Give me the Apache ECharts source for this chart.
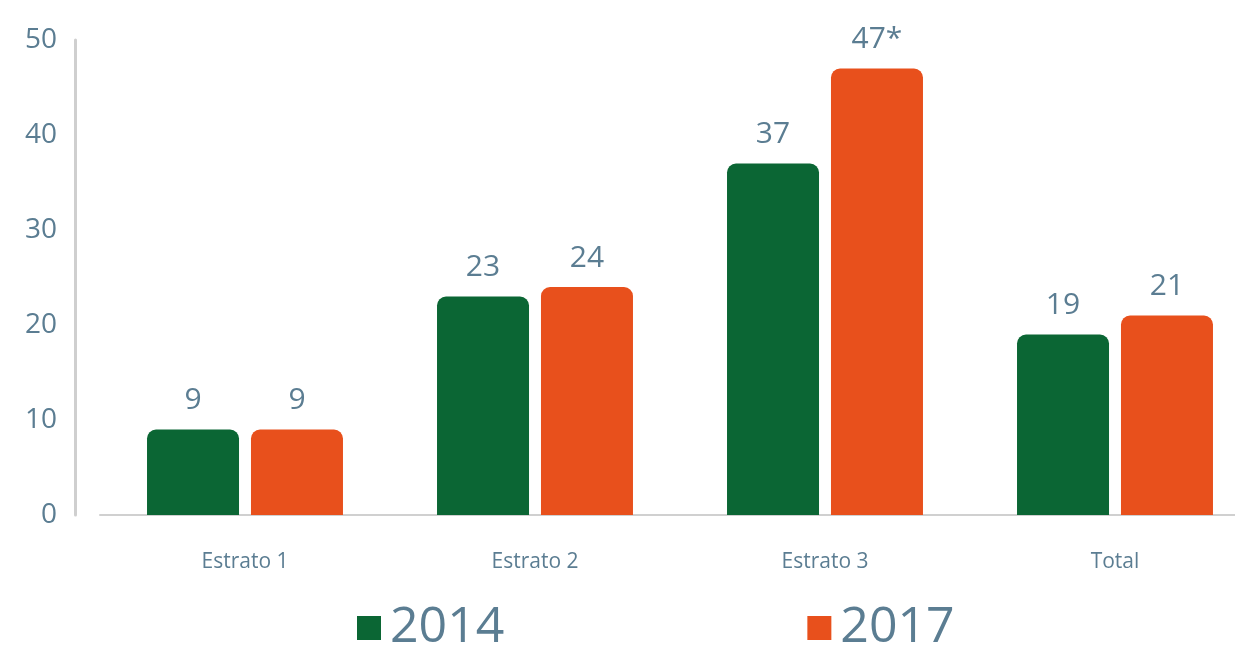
<!DOCTYPE html>
<html><head><meta charset="utf-8">
<script src="https://cdn.jsdelivr.net/npm/echarts@6/dist/echarts.min.js"></script>
<style>html,body{margin:0;padding:0;background:#fff;overflow:hidden;width:1235px;height:647px}#c{width:1260px;height:660px}</style>
</head><body><div id="c"></div>
<script>
var categories = ["Estrato 1", "Estrato 2", "Estrato 3", "Total"];
var values2014 = [9, 23, 37, 19];
var values2017 = [9, 24, 47, 21];
var labels2014 = ["9", "23", "37", "19"];
var labels2017 = ["9", "24", "47*", "21"];
var seriesNames = ["2014", "2017"];
var textColor = "#5b7d92";
var chart = echarts.init(document.getElementById('c'));
function lab(arr){return {show:true,position:'top',distance:14,fontSize:30,color:textColor,fontFamily:'Open Sans',formatter:function(p){return arr[p.dataIndex];}};}
chart.setOption({
  animation:false,
  grid:{left:100,right:0,top:40,height:475},
  legend:{bottom:2,left:352,itemWidth:24,itemHeight:24,itemGap:303,icon:'rect',
    textStyle:{fontSize:50,color:textColor,fontFamily:'Open Sans',padding:[0,0,0,4]},data:seriesNames},
  xAxis:{type:'category',data:categories,
    axisLine:{lineStyle:{color:'#d0d0d0',width:2}},axisTick:{show:false},
    axisLabel:{fontSize:21,color:textColor,margin:37,fontFamily:'Open Sans'}},
  yAxis:{type:'value',min:0,max:50,interval:10,offset:25,
    axisLine:{show:true,lineStyle:{color:'#cfcfcf',width:3}},axisTick:{show:false},splitLine:{show:false},
    axisLabel:{fontSize:28,color:textColor,margin:18,fontFamily:'Open Sans'}},
  series:[
    {name:seriesNames[0],type:'bar',data:values2014,barWidth:92,barGap:'13%',
     itemStyle:{color:'#0b6634',borderRadius:[9,9,0,0]},label:lab(labels2014)},
    {name:seriesNames[1],type:'bar',data:values2017,barWidth:92,
     itemStyle:{color:'#e8501c',borderRadius:[9,9,0,0]},label:lab(labels2017)}
  ]
});
</script></body></html>
